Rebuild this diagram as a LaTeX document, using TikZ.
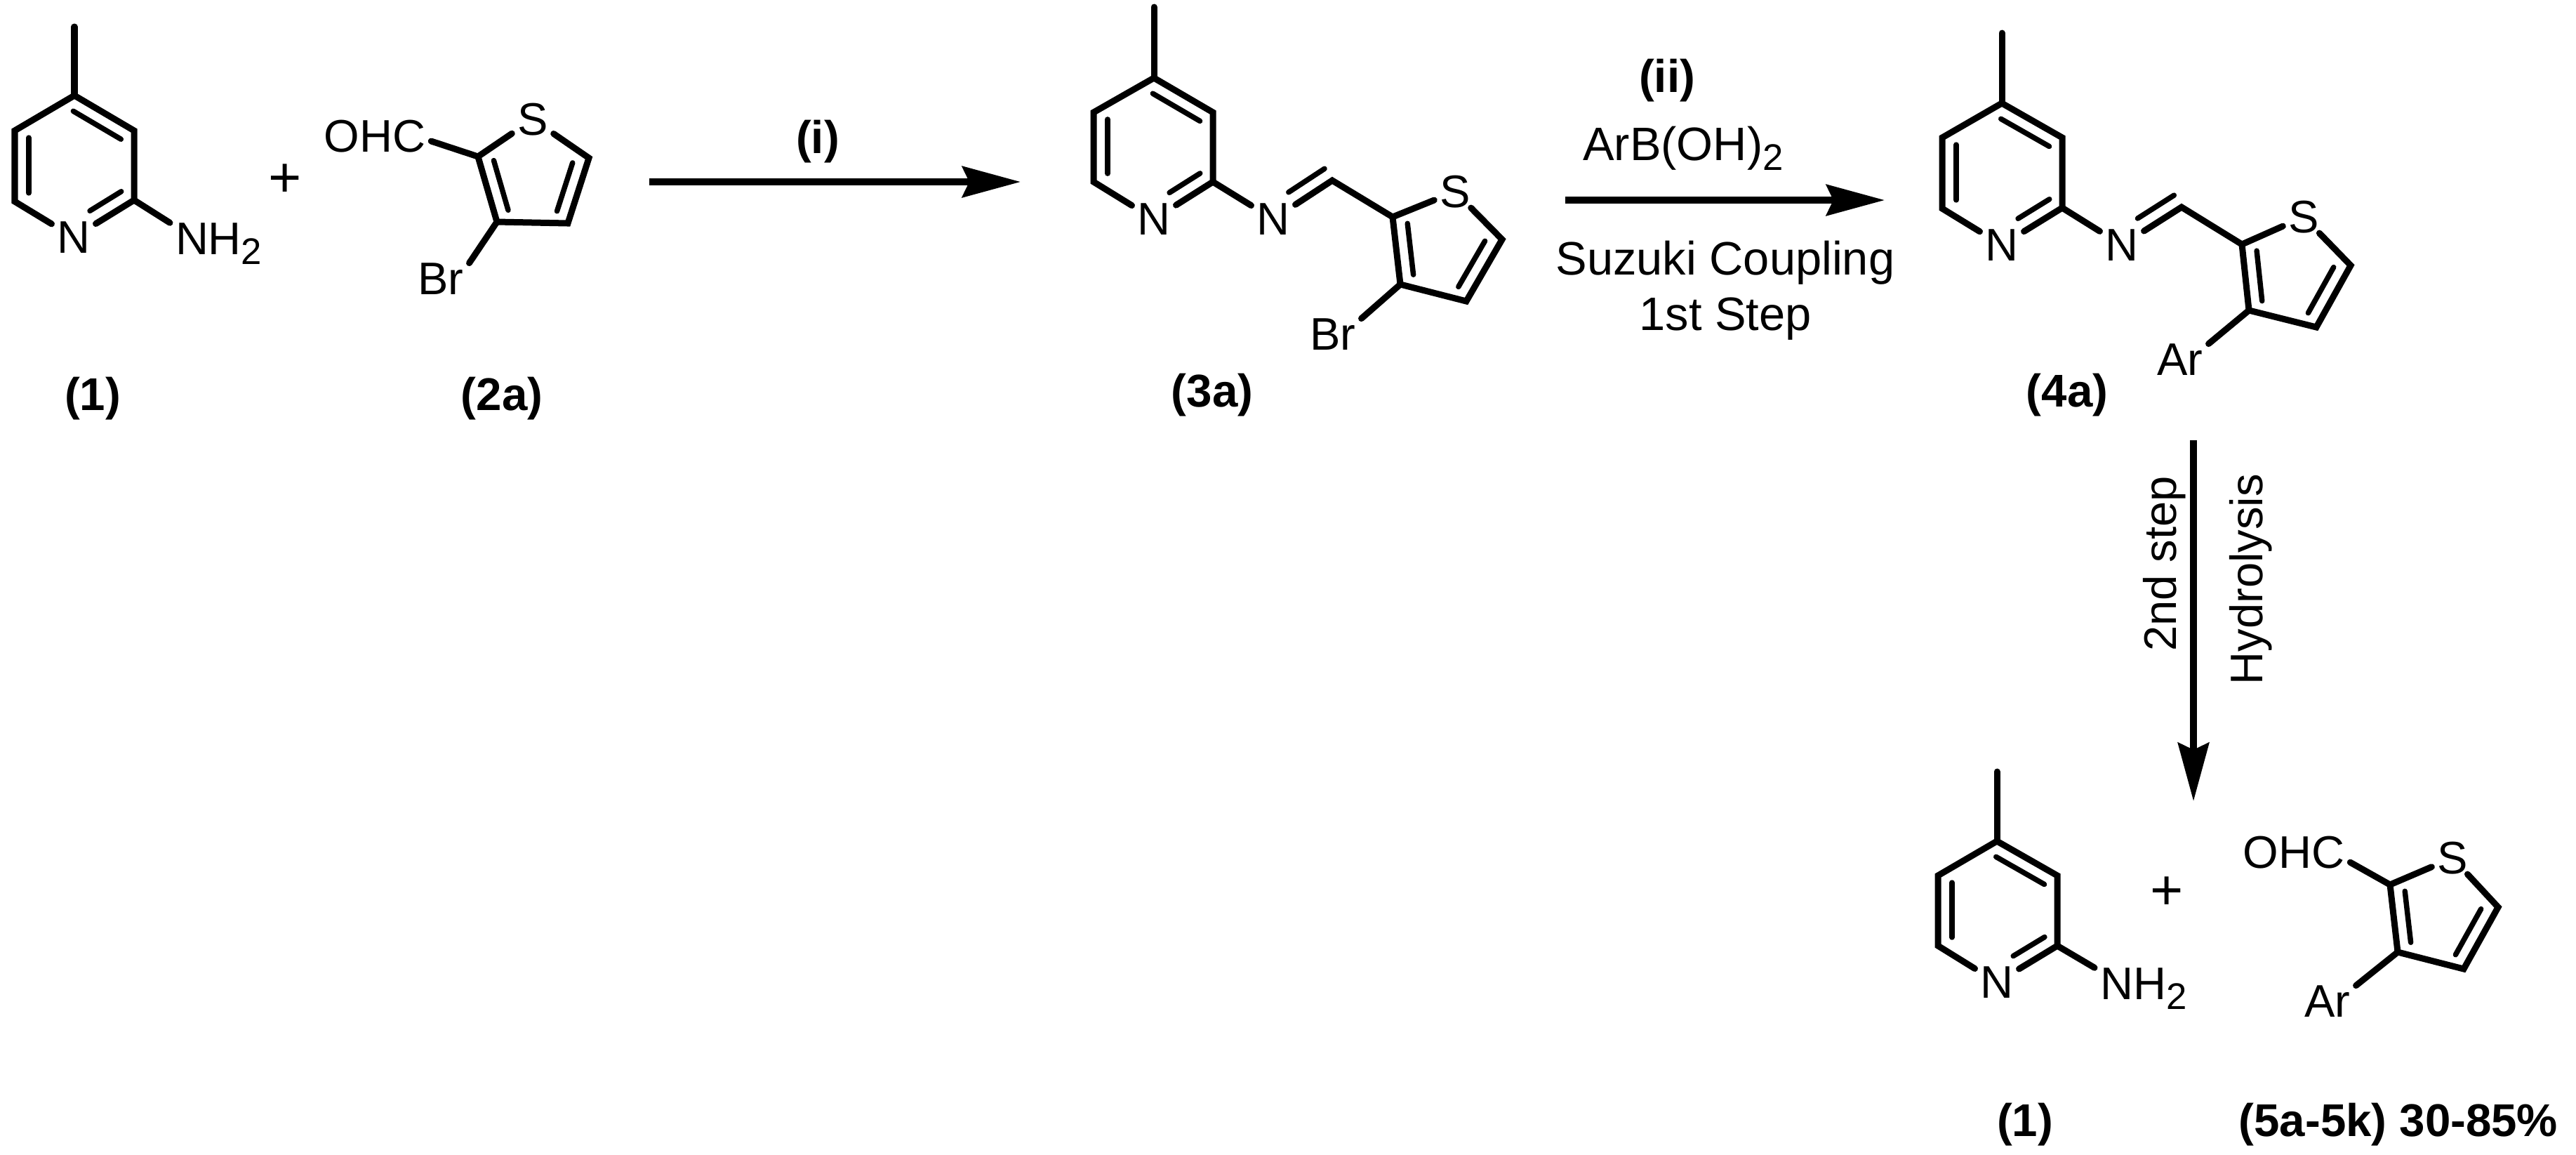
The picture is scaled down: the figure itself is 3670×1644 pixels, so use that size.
\documentclass[tikz,border=0pt]{standalone}
\usepackage{fontspec}
\setmainfont{Liberation Sans}
\usetikzlibrary{calc,arrows.meta}

\tikzset{
  bond/.style={line width=0.09cm,line join=miter,line cap=round},
  innerline/.style={line width=0.075cm,line cap=round},
  atom/.style={inner sep=0pt,outer xsep=0.08cm,outer ysep=0pt,font=\fontsize{18.5}{22}\selectfont},
  reagent/.style={inner sep=0pt,anchor=base,font=\fontsize{19}{23}\selectfont},
  sidetext/.style={inner sep=0pt,anchor=base,rotate=90,font=\fontsize{18.5}{22}\selectfont},
  tag/.style={inner sep=0pt,anchor=base,font=\fontsize{18.6}{22}\selectfont\bfseries},
  plus/.style={inner sep=0pt,font=\fontsize{23}{26}\selectfont},
  react/.style={line width=0.095cm,-{Stealth[length=0.83cm,width=0.44cm,inset=0.1cm]}}
}

% inner line of a double bond: from, to, start and end fraction
\newcommand{\innerbond}[4]{\draw[innerline] ($(#1)!#3!(#2)!0.2cm!-90:(#2)$) -- ($(#1)!#4!(#2)!0.2cm!-90:(#2)$);}
\newcommand{\subtwo}{\raisebox{-0.22em}{\fontsize{15}{15}\selectfont 2}}

\begin{document}
\begin{tikzpicture}[x=0.01cm,y=-0.01cm]

\useasboundingbox[fill=white] (0,0) rectangle (3670,1644);

% Pyridine (1)
\coordinate (Mea) at (106,38);
\coordinate (P4a) at (106,136);
\coordinate (P3a) at (191,186);
\coordinate (P2a) at (191,285);
\coordinate (P6a) at (21,287);
\coordinate (P5a) at (21,186);
\node[atom] (Na) at (105,338) {N};
\node[atom,anchor=base west] (NHa) at (242,362) {NH\subtwo};
\draw[bond] (Na) -- (P6a) -- (P5a) -- (P4a) -- (P3a) -- (P2a) -- (Na);
\draw[bond] (P4a) -- (Mea);
\draw[bond] (P2a) -- (NHa.north west);
\innerbond{P4a}{P3a}{0.1}{0.9}
\innerbond{P2a}{Na}{0.09}{0.61}
\innerbond{P6a}{P5a}{0.12}{0.9}
\node[tag] (taga) at (132,584) {(1)};

\node[plus] (plusa) at (406,257) {+};

% Thiophene (2a)
\coordinate (T2b) at (681,223);
\coordinate (T3b) at (708,316);
\coordinate (T4b) at (809,318);
\coordinate (T5b) at (839,225);
\node[atom] (Sb) at (759,170) {S};
\node[atom] (OHCb) at (534,194) {OHC};
\node[atom] (Brb) at (628,397) {Br};
\draw[bond] (Sb) -- (T5b) -- (T4b) -- (T3b) -- (T2b) -- (Sb);
\draw[bond] (T2b) -- (OHCb.-5);
\draw[bond] (T3b) -- (Brb.north east);
\innerbond{T3b}{T2b}{0.12}{0.88}
\innerbond{T5b}{T4b}{0.14}{0.88}
\node[tag] (tagb) at (715,584) {(2a)};

% Arrow (i)
\coordinate (ArrowAs) at (925,259);
\coordinate (ArrowAe) at (1454,259);
\draw[react] (ArrowAs) -- (ArrowAe);
\node[tag] (stepi) at (1165,218) {(i)};

% Imine (3a)
\coordinate (Mec) at (1644,10);
\coordinate (P4c) at (1644,111);
\coordinate (P3c) at (1728,160);
\coordinate (P2c) at (1728,259);
\coordinate (P6c) at (1558,259);
\coordinate (P5c) at (1558,160);
\coordinate (CHc) at (1898,257);
\coordinate (T2c) at (1984,309);
\coordinate (T3c) at (1995,405);
\coordinate (T4c) at (2089,429);
\coordinate (T5c) at (2140,341);
\node[atom] (Nc) at (1644,312) {N};
\node[atom] (Nic) at (1814,312) {N};
\node[atom] (Sc) at (2073,273) {S};
\node[atom] (Brc) at (1899,476) {Br};
\draw[bond] (Nc) -- (P6c) -- (P5c) -- (P4c) -- (P3c) -- (P2c) -- (Nc);
\draw[bond] (P4c) -- (Mec);
\draw[bond] (P2c) -- (Nic);
\draw[bond] (Nic) -- (CHc) -- (T2c);
\draw[bond] (Sc) -- (T5c) -- (T4c) -- (T3c) -- (T2c) -- (Sc);
\draw[bond] (T3c) -- (Brc.north east);
\innerbond{P4c}{P3c}{0.1}{0.9}
\innerbond{P2c}{Nc}{0.09}{0.61}
\innerbond{P6c}{P5c}{0.12}{0.9}
\innerbond{CHc}{Nic}{0.0}{0.61}
\innerbond{T3c}{T2c}{0.12}{0.88}
\innerbond{T5c}{T4c}{0.14}{0.88}
\node[tag] (tagc) at (1727,579) {(3a)};

% Arrow (ii)
\coordinate (ArrowBs) at (2230,285);
\coordinate (ArrowBe) at (2685,285);
\draw[react] (ArrowBs) -- (ArrowBe);
\node[tag] (stepii) at (2375,131) {(ii)};
\node[reagent] (boron) at (2398,228) {ArB(OH)\subtwo};
\node[reagent] (suzuki) at (2458,391) {Suzuki Coupling};
\node[reagent] (first) at (2458,470) {1st Step};

% Imine (4a)
\coordinate (Med) at (2852,47);
\coordinate (P4d) at (2852,147);
\coordinate (P3d) at (2938,196);
\coordinate (P2d) at (2938,296);
\coordinate (P6d) at (2767,297);
\coordinate (P5d) at (2767,196);
\coordinate (CHd) at (3108,295);
\coordinate (T2d) at (3194,348);
\coordinate (T3d) at (3204,442);
\coordinate (T4d) at (3300,466);
\coordinate (T5d) at (3349,378);
\node[atom] (Nd) at (2852,349) {N};
\node[atom] (Nid) at (3023,349) {N};
\node[atom] (Sd) at (3282,309) {S};
\node[atom] (Ard) at (3106,512) {Ar};
\draw[bond] (Nd) -- (P6d) -- (P5d) -- (P4d) -- (P3d) -- (P2d) -- (Nd);
\draw[bond] (P4d) -- (Med);
\draw[bond] (P2d) -- (Nid);
\draw[bond] (Nid) -- (CHd) -- (T2d);
\draw[bond] (Sd) -- (T5d) -- (T4d) -- (T3d) -- (T2d) -- (Sd);
\draw[bond] (T3d) -- (Ard.north east);
\innerbond{P4d}{P3d}{0.1}{0.9}
\innerbond{P2d}{Nd}{0.09}{0.61}
\innerbond{P6d}{P5d}{0.12}{0.9}
\innerbond{CHd}{Nid}{0.0}{0.61}
\innerbond{T3d}{T2d}{0.12}{0.88}
\innerbond{T5d}{T4d}{0.14}{0.88}
\node[tag] (tagd) at (2945,579) {(4a)};

% Arrow hydrolysis
\coordinate (ArrowCs) at (3125,627);
\coordinate (ArrowCe) at (3125,1141);
\draw[react] (ArrowCs) -- (ArrowCe);
\node[sidetext] (second) at (3100,803) {2nd step};
\node[sidetext] (hydro) at (3223,825) {Hydrolysis};

% Pyridine (1) again
\coordinate (Mee) at (2845,1099);
\coordinate (P4e) at (2845,1198);
\coordinate (P3e) at (2931,1247);
\coordinate (P2e) at (2931,1347);
\coordinate (P6e) at (2761,1347);
\coordinate (P5e) at (2761,1247);
\node[atom] (Ne) at (2845,1399) {N};
\node[atom,anchor=base west] (NHe) at (2984,1423) {NH\subtwo};
\draw[bond] (Ne) -- (P6e) -- (P5e) -- (P4e) -- (P3e) -- (P2e) -- (Ne);
\draw[bond] (P4e) -- (Mee);
\draw[bond] (P2e) -- (NHe.north west);
\innerbond{P4e}{P3e}{0.1}{0.9}
\innerbond{P2e}{Ne}{0.09}{0.61}
\innerbond{P6e}{P5e}{0.12}{0.9}
\node[tag] (tage) at (2885,1618) {(1)};

\node[plus] (pluse) at (3087,1272) {+};

% Thiophene (5a-5k)
\coordinate (T2f) at (3405,1260);
\coordinate (T3f) at (3416,1356);
\coordinate (T4f) at (3510,1380);
\coordinate (T5f) at (3559,1292);
\node[atom] (Sf) at (3494,1222) {S};
\node[atom] (OHCf) at (3268,1214) {OHC};
\node[atom] (Arf) at (3316,1426) {Ar};
\draw[bond] (Sf) -- (T5f) -- (T4f) -- (T3f) -- (T2f) -- (Sf);
\draw[bond] (T2f) -- (OHCf.-10);
\draw[bond] (T3f) -- (Arf.north east);
\innerbond{T3f}{T2f}{0.12}{0.88}
\innerbond{T5f}{T4f}{0.14}{0.88}
\node[tag] (tagf) at (3417,1618) {(5a-5k) 30-85\%};

\end{tikzpicture}
\end{document}
